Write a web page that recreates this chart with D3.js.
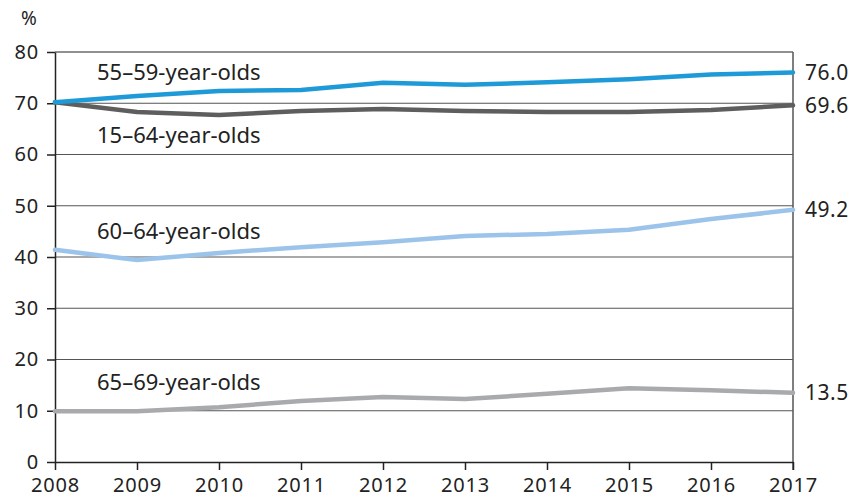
<!DOCTYPE html>
<html>
<head>
<meta charset="utf-8">
<script src="https://cdn.jsdelivr.net/npm/d3@7"></script>
<style>
  body { margin: 0; background: #fff; }
  svg text { font-family: "Noto Sans", sans-serif; fill: #222; }
</style>
</head>
<body>
<div class="chart"></div>
<script>
// values, employment rate in %
const years = [2008, 2009, 2010, 2011, 2012, 2013, 2014, 2015, 2016, 2017];
const age55to59 = [70.2, 71.4, 72.4, 72.6, 74.0, 73.6, 74.1, 74.7, 75.6, 76.0];
const age15to64 = [70.2, 68.3, 67.7, 68.5, 68.9, 68.5, 68.3, 68.3, 68.7, 69.6];
const age60to64 = [41.4, 39.4, 40.8, 41.9, 42.9, 44.1, 44.5, 45.3, 47.4, 49.2];
const age65to69 = [9.9, 9.9, 10.7, 11.9, 12.7, 12.3, 13.3, 14.4, 14.0, 13.5];
const yTicks = [0, 10, 20, 30, 40, 50, 60, 70, 80];

const series = [
  { name: "15\u201364-year-olds", values: age15to64, color: "#5e5e5e", dy: 143 },
  { name: "65\u201369-year-olds", values: age65to69, color: "#a9aaad", dy: 390 },
  { name: "60\u201364-year-olds", values: age60to64, color: "#9cc4ea", dy: 239 },
  { name: "55\u201359-year-olds", values: age55to59, color: "#1f9ad8", dy: 80 }
];

const margin = { top: 52, right: 57, bottom: 40, left: 55 };
const width = 850 - margin.left - margin.right,
  height = 502 - margin.top - margin.bottom;

const svg = d3
  .select(".chart")
  .append("svg")
  .attr("width", 850)
  .attr("height", 502)
  .append("g")
  .attr("transform", `translate(${margin.left}, ${margin.top})`);

const x = d3.scaleLinear().domain([2008, 2017]).range([0, width]);
const y = d3.scaleLinear().domain([0, 80]).range([height, 0]);

// horizontal grid
svg
  .append("g")
  .selectAll("line")
  .data(yTicks.filter((d) => d > 0))
  .join("line")
  .attr("x1", 0)
  .attr("x2", width)
  .attr("y1", (d) => y(d))
  .attr("y2", (d) => y(d))
  .attr("stroke", (d) => (d === 80 ? "#222" : "#555"))
  .attr("stroke-width", 1.2);

// right border
svg
  .append("line")
  .attr("x1", width)
  .attr("x2", width)
  .attr("y1", 0)
  .attr("y2", height + 8)
  .attr("stroke", "#555")
  .attr("stroke-width", 1.5);

const yAxis = svg
  .append("g")
  .call(d3.axisLeft(y).tickValues(yTicks).tickSize(8).tickSizeOuter(0).tickPadding(8));
const xAxis = svg
  .append("g")
  .attr("transform", `translate(0, ${height})`)
  .call(d3.axisBottom(x).tickValues(years).tickFormat(d3.format("d")).tickSize(8).tickSizeOuter(0).tickPadding(8));

[yAxis, xAxis].forEach((a) => {
  a.select(".domain").attr("stroke", "#222").attr("stroke-width", 1.5);
  a.selectAll(".tick line").attr("stroke", "#222").attr("stroke-width", 1.5);
  a.selectAll(".tick text")
    .style("font-size", "20px")
    .style("letter-spacing", "0.8px")
    .attr("fill", "#222");
});

svg.append("text").attr("x", -34).attr("y", -27).style("font-size", "19px").text("%");

const line = d3
  .line()
  .x((d, i) => x(years[i]))
  .y((d) => y(d));

series.forEach((s) => {
  svg
    .append("path")
    .datum(s.values)
    .attr("d", line)
    .attr("fill", "none")
    .attr("stroke", s.color)
    .attr("stroke-width", 4.5)
    .attr("stroke-linejoin", "round")
    .attr("stroke-linecap", "round");

  svg
    .append("text")
    .attr("x", 42)
    .attr("y", s.dy - margin.top)
    .style("font-size", "22px")
    .text(s.name);

  const last = s.values[s.values.length - 1];
  svg
    .append("text")
    .attr("x", width + 12)
    .attr("y", y(last))
    .attr("dy", "0.35em")
    .style("font-size", "21px")
    .style("letter-spacing", "0.5px")
    .text(d3.format(".1f")(last));
});
</script>
</body>
</html>
